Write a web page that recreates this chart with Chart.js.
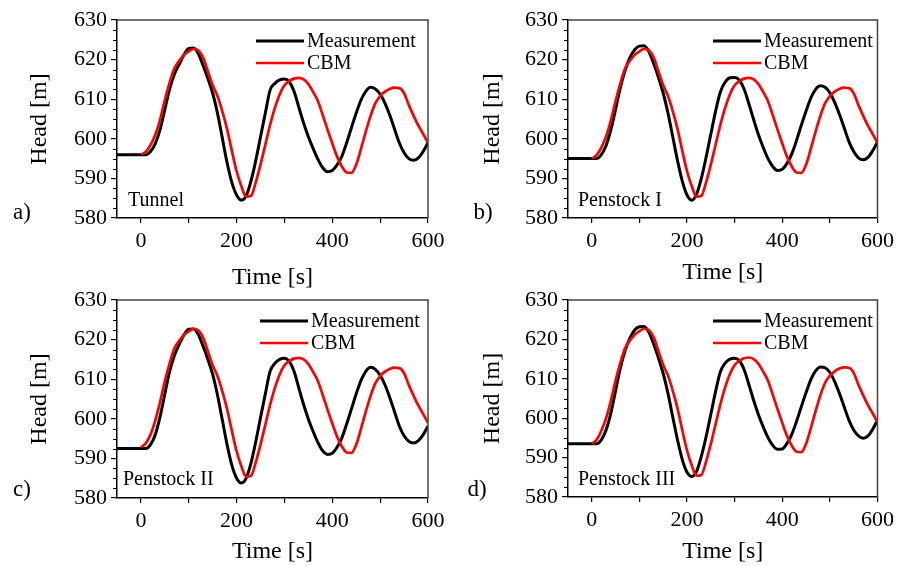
<!DOCTYPE html>
<html>
<head>
<meta charset="utf-8">
<script src="https://cdn.jsdelivr.net/npm/chart.js@4.4.1/dist/chart.umd.min.js"></script>
<style>
  body { margin: 0; background: #fff; overflow: hidden; }
  #wrap { position: relative; width: 899px; height: 566px; }
  #wrap canvas { position: absolute; }
</style>
</head>
<body>
<div id="wrap"></div>
<script>
// time axes [s]
var tMeas = [-50, -40, -30, -20, -10, 0, 10, 20, 30, 40, 50, 60, 70, 80, 90, 100, 110, 120, 130, 140,
  150, 160, 170, 180, 190, 200, 210, 220, 230, 240, 250, 260, 270, 280, 290, 300, 310, 320, 330, 340,
  350, 360, 370, 380, 390, 400, 410, 420, 430, 440, 450, 460, 470, 480, 490, 500, 510, 520, 530, 540,
  550, 560, 570, 580, 590, 600];
var tCbm = [0, 10, 20, 30, 40, 50, 60, 70, 80, 90, 100, 110, 120, 130, 140, 150, 160, 170, 180, 190,
  200, 210, 220, 230, 240, 250, 260, 270, 280, 290, 300, 310, 320, 330, 340, 350, 360, 370, 380, 390,
  400, 410, 420, 430, 440, 450, 460, 470, 480, 490, 500, 510, 520, 530, 540, 550, 560, 570, 580, 590, 600];

var yMajor = [580, 590, 600, 610, 620, 630];
var xTicks = [0, 100, 200, 300, 400, 500, 600];
var xLabels = [0, 200, 400, 600];
var seriesNames = ['Measurement', 'CBM'];
var panelTags = ['a)', 'b)', 'c)', 'd)'];
var panelNames = ['Tunnel', 'Penstock I', 'Penstock II', 'Penstock III'];

// head [m], measured
var measA = [596, 596, 596, 596, 596, 596, 596, 596.8, 598.8, 602.3, 607.4, 612.6, 616.3, 618.8, 621.2, 622.8, 622.9,
  621.5, 618.5, 615.2, 611.5, 606.5, 600.3, 594, 589, 585.8, 584.5, 585.6, 589.3, 594.5, 600.5, 606.5, 612.3,
  614, 614.9, 615.1, 614.4, 612, 608, 604, 600.5, 597.5, 594.8, 592.7, 591.7, 592, 593.4, 595.6, 599, 602.8,
  606.5, 609.8, 612, 613, 612.6, 611.3, 609, 606, 602.5, 599, 596.5, 595, 594.6, 595.2, 596.8, 599];
var measB = [595, 595, 595, 595, 595, 595, 595, 596, 598.3, 602.3, 607.5, 613, 617.3, 620.5, 622.5, 623.4, 623.5,
  622, 619, 615.5, 611.5, 606.5, 600.5, 594.5, 589.3, 585.8, 584.5, 586, 590, 595.3, 601.2, 607, 611.8,
  614.3, 615.4, 615.5, 614.8, 612.5, 608.8, 604.8, 601, 597.8, 595, 593, 592, 592.3, 593.8, 596.2, 599.6, 603.4,
  607, 610.3, 612.5, 613.4, 613, 611.6, 609.2, 606.2, 602.8, 599.3, 596.8, 595.2, 594.7, 595.3, 597, 599.2];
var measC = [592.5, 592.5, 592.5, 592.5, 592.5, 592.5, 592.5, 593.5, 596, 600.5, 606.3, 612, 616, 618.8, 621.2, 622.6, 622.7,
  621.3, 618.3, 615, 611.2, 606, 599.8, 593.5, 588.3, 585, 583.8, 585, 588.8, 594.2, 600.3, 606.3, 612,
  614, 615, 615.3, 614.5, 612, 607.8, 603.6, 599.9, 596.8, 594, 591.9, 591, 591.3, 592.8, 595.2, 598.7, 602.5,
  606.3, 609.7, 612, 613, 612.5, 611, 608.6, 605.4, 601.8, 598.2, 595.7, 594.3, 593.9, 594.5, 596, 598.2];
var measD = [593.5, 593.5, 593.5, 593.5, 593.5, 593.5, 593.5, 594.5, 597, 601.3, 607, 612.8, 617.2, 620.3, 622.4, 623.2, 623.3,
  621.8, 618.8, 615.3, 611.3, 606.3, 600.3, 594.5, 589.5, 586.3, 585.2, 586.5, 590.3, 595.3, 601, 606.8, 611.8,
  614, 615, 615.2, 614.6, 612.3, 608.5, 604.5, 600.9, 597.8, 595.1, 593.1, 592.1, 592.2, 593.6, 595.9, 599.2, 602.9,
  606.5, 609.8, 612, 613, 612.8, 611.6, 609.3, 606.3, 602.9, 599.5, 597, 595.5, 594.9, 595.5, 597.2, 599.5];

// head [m], CBM model: start differs per section, rest (t >= 70 s) is the same
var cbmTail = [617.8, 619.7, 621.2, 622.1, 622.7, 622.3, 620.5, 617, 613.5, 610.8, 607, 602.5, 597, 591.8, 588,
  585.4, 585.6, 589, 593.5, 598.5, 603.5, 607.8, 611.2, 613.5, 614.6, 615.2, 615.4, 615, 613.8, 611.8, 609.5,
  606, 602.3, 598.8, 595.5, 593, 591.5, 591.4, 593.5, 597.5, 601.8, 605.8, 609, 610.8, 611.9, 612.6, 612.9,
  612.8, 611.5, 608.5, 605.8, 603.3, 601.2, 599];
var cbmA = [596, 596.7, 598.4, 601, 604.8, 609.8, 614.2].concat(cbmTail);
var cbmB = [595, 595.9, 597.8, 600.6, 604.6, 609.6, 614].concat(cbmTail);
var cbmC = [592.8, 593.8, 596, 599.6, 604.2, 609.5, 614].concat(cbmTail);
var cbmD = [593.5, 594.5, 596.8, 600, 604.4, 609.6, 614.1].concat(cbmTail);

var SERIF = '"Liberation Serif", "Times New Roman", serif';
Chart.defaults.font.family = SERIF;
Chart.defaults.color = '#000';

// canvas box + plot area (l, r, t, b) for each panel
var panels = [
  { meas: measA, cbm: cbmA, left: 0, top: 0, w: 450, h: 290, area: [117, 428, 20, 218], padX: 0, padY: 28, leg: 256, tagXY: [22, 213], nameXY: [128, 201] },
  { meas: measB, cbm: cbmB, left: 450, top: 0, w: 449, h: 290, area: [118, 431, 20, 218], padX: 5, padY: 31, leg: 263, tagXY: [33, 213], nameXY: [128, 201] },
  { meas: measC, cbm: cbmC, left: 0, top: 280, w: 450, h: 286, area: [117, 428, 20, 218], padX: 2, padY: 28, leg: 260, tagXY: [22, 210], nameXY: [123, 200] },
  { meas: measD, cbm: cbmD, left: 450, top: 280, w: 449, h: 286, area: [118, 431, 20, 217], padX: 2, padY: 31, leg: 263, tagXY: [27, 210], nameXY: [128, 200] }
];

var decor = {
  id: 'decor',
  afterDraw(chart, args, opts) {
    var p = opts.panel;
    var ctx = chart.ctx;
    var a = chart.chartArea;
    var ys = chart.scales.y;
    ctx.save();
    // top / right frame
    ctx.strokeStyle = '#444';
    ctx.lineWidth = 1.5;
    ctx.beginPath();
    ctx.moveTo(a.left, a.top);
    ctx.lineTo(a.right, a.top);
    ctx.lineTo(a.right, a.bottom);
    ctx.stroke();
    // minor y ticks
    ctx.strokeStyle = '#000';
    ctx.lineWidth = 1.2;
    ctx.beginPath();
    for (var i = 0; i < yMajor.length - 1; i++) {
      [2.5, 5, 7.5].forEach(d => {
        var y = Math.round(ys.getPixelForValue(yMajor[i] + d)) + 0.5;
        ctx.moveTo(a.left - 4, y);
        ctx.lineTo(a.left, y);
      });
    }
    ctx.stroke();
    // legend
    ctx.font = '20px ' + SERIF;
    ctx.textBaseline = 'middle';
    ctx.textAlign = 'left';
    chart.data.datasets.forEach((ds, k) => {
      var y = a.top + 21 + k * 22;
      ctx.strokeStyle = ds.borderColor;
      ctx.lineWidth = ds.borderWidth;
      ctx.beginPath();
      ctx.moveTo(p.leg, y);
      ctx.lineTo(p.leg + 48, y);
      ctx.stroke();
      ctx.fillStyle = '#000';
      ctx.fillText(ds.label, p.leg + 51, y + 1);
    });
    ctx.fillText(p.name, p.nameXY[0], p.nameXY[1]);
    ctx.font = '23px ' + SERIF;
    ctx.textAlign = 'center';
    ctx.fillText(p.tag, p.tagXY[0], p.tagXY[1]);
    ctx.restore();
  }
};

var wrap = document.getElementById('wrap');
var charts = panels.map((p, idx) => {
  p.tag = panelTags[idx];
  p.name = panelNames[idx];
  var cv = document.createElement('canvas');
  cv.width = p.w;
  cv.height = p.h;
  cv.style.left = p.left + 'px';
  cv.style.top = p.top + 'px';
  cv.style.width = p.w + 'px';
  cv.style.height = p.h + 'px';
  wrap.appendChild(cv);
  var ar = p.area;
  return new Chart(cv, {
    type: 'line',
    data: {
      datasets: [{
        label: seriesNames[0],
        data: tMeas.map((t, i) => ({ x: t, y: p.meas[i] })),
        borderColor: '#000',
        borderWidth: 3,
        order: 1
      }, {
        label: seriesNames[1],
        data: tCbm.map((t, i) => ({ x: t, y: p.cbm[i] })),
        borderColor: '#ff0000',
        borderWidth: 2.7,
        order: 0
      }]
    },
    options: {
      responsive: false,
      animation: false,
      events: [],
      layout: { padding: { left: 0, top: ar[2], right: p.w - ar[1], bottom: 0 } },
      elements: {
        point: { radius: 0 },
        line: { cubicInterpolationMode: 'monotone', fill: false }
      },
      plugins: {
        legend: { display: false },
        tooltip: { enabled: false },
        decor: { panel: p }
      },
      scales: {
        x: {
          type: 'linear',
          min: -50,
          max: 600,
          afterBuildTicks: ax => { ax.ticks = xTicks.map(v => ({ value: v })); },
          afterFit: ax => { ax.height = p.h - ar[3]; },
          grid: { drawOnChartArea: false, drawTicks: true, tickLength: 5, color: '#000', lineWidth: 1.2 },
          border: { display: true, color: '#000', width: 1.5 },
          ticks: {
            font: { family: SERIF, size: 22 },
            color: '#000',
            padding: 5,
            maxRotation: 0,
            autoSkip: false,
            callback: v => xLabels.indexOf(v) >= 0 ? String(v) : ''
          },
          title: {
            display: true,
            text: 'Time [s]',
            color: '#000',
            font: { family: SERIF, size: 24, lineHeight: 1 },
            padding: { top: 0, bottom: p.padX }
          }
        },
        y: {
          type: 'linear',
          min: 580,
          max: 630,
          afterBuildTicks: ax => { ax.ticks = yMajor.map(v => ({ value: v })); },
          afterFit: ax => { ax.width = ar[0]; },
          grid: { drawOnChartArea: false, drawTicks: true, tickLength: 6, color: '#000', lineWidth: 1.2 },
          border: { display: true, color: '#000', width: 1.5 },
          ticks: { font: { family: SERIF, size: 22 }, color: '#000', padding: 4 },
          title: {
            display: true,
            text: 'Head [m]',
            color: '#000',
            font: { family: SERIF, size: 24, lineHeight: 1 },
            padding: { top: p.padY, bottom: 0 }
          }
        }
      }
    },
    plugins: [decor]
  });
});
</script>
</body>
</html>
